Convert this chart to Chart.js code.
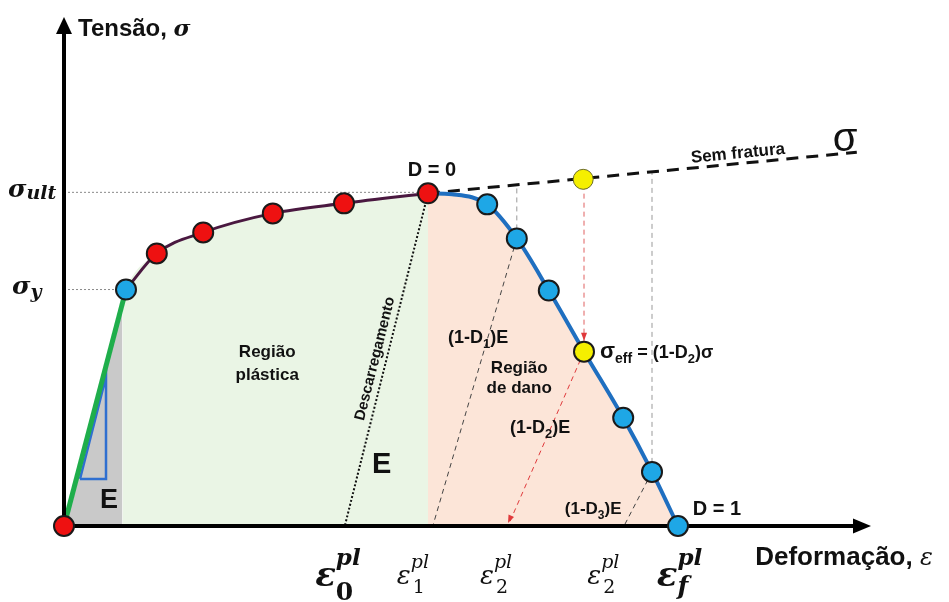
<!DOCTYPE html>
<html><head><meta charset="utf-8">
<script src="https://cdn.jsdelivr.net/npm/chart.js@4.4.1/dist/chart.umd.min.js"></script>
<style>html,body{margin:0;padding:0;background:#fff;}canvas{display:block;}</style>
</head><body>
<canvas id="c" width="949" height="602"></canvas>
<script>
// ---------- data (x: strain units, y: stress units) ----------
const elasticLine   = [{x:0,y:0},{x:7.75,y:47.2}];
const elasticShade  = [{x:0,y:0},{x:7.3,y:44.5}];
const plasticCurve  = [{x:7.75,y:47.2},{x:11.6,y:54.4},{x:17.4,y:58.6},{x:26.1,y:62.4},{x:35.0,y:64.4},{x:45.5,y:66.4}];
const plasticShade  = [{x:7.3,y:44.5},{x:7.75,y:47.2},{x:11.6,y:54.4},{x:17.4,y:58.6},{x:26.1,y:62.4},{x:35.0,y:64.4},{x:45.5,y:66.4}];
const damageCurve   = [{x:45.5,y:66.4},{x:48.5,y:66.2},{x:52.9,y:64.2},{x:56.6,y:57.4},{x:60.6,y:47.0},{x:65.0,y:34.8},{x:69.9,y:21.6},{x:73.5,y:10.8},{x:76.75,y:0}];
const redPoints     = [{x:0,y:0},{x:11.6,y:54.4},{x:17.4,y:58.6},{x:26.1,y:62.4},{x:35.0,y:64.4},{x:45.5,y:66.4}];
const bluePoints    = [{x:7.75,y:47.2},{x:52.9,y:64.2},{x:56.6,y:57.4},{x:60.6,y:47.0},{x:69.9,y:21.6},{x:73.5,y:10.8},{x:76.75,y:0}];
const effPoint      = [{x:65.0,y:34.8}];
const noFracPoint   = [{x:64.9,y:69.2}];
const noFractureLine= [{x:45.5,y:66.4},{x:99.1,y:74.6}];
const sigmaUlt = 66.6;
const sigmaY   = 47.2;
const ultRef   = [{x:0,y:sigmaUlt},{x:45.5,y:sigmaUlt}];
const yRef     = [{x:0,y:sigmaY},{x:7.75,y:sigmaY}];
const unload0  = [{x:45.5,y:66.4},{x:35.1,y:0}];
const unload1  = [{x:56.6,y:57.4},{x:46.1,y:0}];
const unload2  = [{x:65.0,y:34.8},{x:55.5,y:0}];
const unload3  = [{x:73.5,y:10.8},{x:70.0,y:0}];
const vert1    = [{x:56.6,y:57.4},{x:56.6,y:67.9}];
const vert2    = [{x:65.0,y:34.8},{x:65.0,y:69.2}];
const vert3    = [{x:73.5,y:10.8},{x:73.5,y:70.6}];
const slopeTriangle = [{x:2.0,y:9.4},{x:5.25,y:9.4},{x:5.25,y:29.8},{x:2.0,y:9.4}];
// tick labels along strain axis: [position, subscript, bold]
const xTickPos   = [31.4, 41.6, 52.0, 65.4, 74.1];
const xTickSub   = ['0','1','2','2','f'];
const xTickBold  = [true,false,false,false,true];

const FS = '"Liberation Sans", Arial, sans-serif';
const FM = '"DejaVu Serif", serif';

function ds(data, o){ return Object.assign({data, showLine:true, pointRadius:0, borderWidth:1, fill:false, clip:false}, o); }

function arrowHead(ctx, x1, y1, x2, y2, len, w, color){
  const a = Math.atan2(y2-y1, x2-x1);
  ctx.save(); ctx.fillStyle = color; ctx.translate(x2,y2); ctx.rotate(a);
  ctx.beginPath(); ctx.moveTo(0,0); ctx.lineTo(-len, -w/2); ctx.lineTo(-len, w/2); ctx.closePath(); ctx.fill();
  ctx.restore();
}
function rich(ctx, x, y, parts){
  let cx = x;
  for (const p of parts){
    ctx.font = p[1];
    ctx.fillText(p[0], cx, y + (p[2]||0));
    cx += ctx.measureText(p[0]).width + (p[3]||0);
  }
  return cx;
}

let axesDrawn = false;
const decor = {
  id:'decor',
  beforeDraw(){ axesDrawn = false; },
  beforeDatasetDraw(chart, args){
    if (axesDrawn) return;
    if (chart.data.datasets[args.index].order !== 1) return;
    axesDrawn = true;
    const ctx = chart.ctx, xs = chart.scales.x, ys = chart.scales.y, ca = chart.chartArea;
    const x0 = xs.getPixelForValue(0), y0 = ys.getPixelForValue(0);
    ctx.save();
    ctx.strokeStyle = '#000'; ctx.lineWidth = 4;
    ctx.beginPath(); ctx.moveTo(x0, y0+2); ctx.lineTo(x0, ca.top+4); ctx.stroke();
    ctx.beginPath(); ctx.moveTo(x0-2, y0); ctx.lineTo(ca.right-4, y0); ctx.stroke();
    arrowHead(ctx, x0, y0, x0, ca.top-8, 17, 16, '#000');
    arrowHead(ctx, x0, y0, ca.right+7, y0, 18, 15, '#000');
    // red arrowheads
    arrowHead(ctx, xs.getPixelForValue(vert2[1].x), ys.getPixelForValue(vert2[1].y), xs.getPixelForValue(vert2[0].x), ys.getPixelForValue(vert2[0].y)-11, 8, 6, '#e0393b');
    arrowHead(ctx, xs.getPixelForValue(unload2[0].x), ys.getPixelForValue(unload2[0].y), xs.getPixelForValue(unload2[1].x), ys.getPixelForValue(unload2[1].y)-3, 8, 6, '#e0393b');
    ctx.restore();
  },
  afterDraw(chart){
    const ctx = chart.ctx, xs = chart.scales.x, ys = chart.scales.y;
    const X = v => xs.getPixelForValue(v), Y = v => ys.getPixelForValue(v);
    ctx.save();
    ctx.fillStyle = '#111'; ctx.textBaseline = 'alphabetic'; ctx.textAlign = 'left';
    // axis titles
    rich(ctx, X(1.75), Y(97.8), [['Tensão, ', 'bold 24px '+FS], ['σ', 'italic bold 23px '+FM]]);
    rich(ctx, X(86.4), Y(-7.8), [['Deformação, ', 'bold 26px '+FS], ['ε', 'italic 24px '+FM]]);
    // stress tick labels
    rich(ctx, X(-7), Y(sigmaUlt)+5, [['σ', 'italic bold 25px '+FM], ['ult', 'italic bold 19px '+FM, 2]]);
    rich(ctx, X(-6.5), Y(sigmaY)+4, [['σ', 'italic bold 25px '+FM], ['y', 'italic bold 19px '+FM, 4]]);
    // strain tick labels
    for (let i=0;i<xTickPos.length;i++){
      const lx = X(xTickPos[i]);
      if (xTickBold[i]){
        ctx.font = 'italic bold 34px '+FM; ctx.fillText('ε', lx, 586);
        const w = ctx.measureText('ε').width;
        ctx.font = 'italic bold 23px '+FM; ctx.fillText('pl', lx+w, 565);
        ctx.font = (xTickSub[i]==='f' ? 'italic bold 25px ' : 'bold 25px ')+FM; ctx.fillText(xTickSub[i], lx+w, xTickSub[i]==='f'?594:600);
      } else {
        ctx.font = 'italic 26px '+FM; ctx.fillText('ε', lx, 584);
        const w = ctx.measureText('ε').width;
        ctx.font = 'italic 19px '+FM; ctx.fillText('pl', lx+w, 568);
        ctx.font = '19px '+FM; ctx.fillText(xTickSub[i], lx+w+2, 593);
      }
    }
    // region labels
    ctx.textAlign = 'center';
    ctx.font = 'bold 17px '+FS;
    ctx.fillText('Região', X(25.4), Y(33.8));
    ctx.fillText('plástica', X(25.4), Y(29.2));
    ctx.fillText('Região', X(56.9), Y(30.6));
    ctx.fillText('de dano', X(56.9), Y(26.6));
    ctx.font = 'bold 20px '+FS;
    ctx.fillText('D = 0', X(45.5)+4, Y(66.4)-17);
    // Sem fratura rotated
    {
      const ax = X(noFractureLine[0].x), ay = Y(noFractureLine[0].y), bx = X(noFractureLine[1].x), by = Y(noFractureLine[1].y);
      const ang = Math.atan2(by-ay, bx-ax);
      ctx.save(); ctx.translate(X(84.3), Y(74.2)+4); ctx.rotate(ang);
      ctx.font = 'bold 17px '+FS; ctx.fillText('Sem fratura', 0, 0); ctx.restore();
    }
    // Descarregamento rotated along unloading line
    {
      const ax = X(unload0[1].x), ay = Y(unload0[1].y), bx = X(unload0[0].x), by = Y(unload0[0].y);
      const ang = Math.atan2(by-ay, bx-ax);
      ctx.save(); ctx.translate(X(38.9), Y(33.4)); ctx.rotate(ang);
      ctx.textBaseline = 'middle';
      ctx.font = 'bold 15px '+FS; ctx.fillText('Descarregamento', 0, 0); ctx.restore();
    }
    ctx.textAlign = 'left';
    ctx.font = '40px '+FS; ctx.fillText('σ', X(96.1), Y(74.8));
    ctx.font = 'bold 29px '+FS; ctx.fillText('E', X(38.5), Y(10.6));
    ctx.font = 'bold 27px '+FS; ctx.fillText('E', X(4.5), Y(3.6));
    const B = 'bold 18px '+FS, S = 'bold 13px '+FS;
    rich(ctx, X(48), Y(36.6), [['(1-D', B], ['1', S, 5], [')E', B]]);
    rich(ctx, X(55.75), Y(18.6), [['(1-D', B], ['2', S, 5], [')E', B]]);
    rich(ctx, X(62.6), Y(2.4), [['(1-D', 'bold 17px '+FS], ['3', 'bold 12px '+FS, 5], [')E', 'bold 17px '+FS]]);
    rich(ctx, X(67), Y(33.6), [['σ', 'bold 22px '+FS], ['eff', 'bold 14px '+FS, 5], [' = (1-D', 'bold 18px '+FS], ['2', S, 5], [')σ', 'bold 18px '+FS]]);
    ctx.font = 'bold 20px '+FS; ctx.fillText('D = 1', X(78.6), Y(2.2));
    ctx.restore();
  }
};

const datasets = [
  ds(elasticShade, {fill:'origin', backgroundColor:'#c9c9c9', borderWidth:0, order:20}),
  ds(plasticShade, {fill:'origin', backgroundColor:'#eaf5e5', borderWidth:0, order:20, cubicInterpolationMode:'monotone'}),
  ds(damageCurve,  {fill:'origin', backgroundColor:'#fce5d8', borderWidth:0, order:20, cubicInterpolationMode:'monotone'}),
  ds(ultRef,  {borderColor:'#8a8a8a', borderWidth:1, borderDash:[2,2], order:15}),
  ds(yRef,    {borderColor:'#8a8a8a', borderWidth:1, borderDash:[2,2], order:15}),
  ds(unload0, {borderColor:'#111', borderWidth:2, borderDash:[2,2], order:12}),
  ds(unload1, {borderColor:'#444', borderWidth:1, borderDash:[5,4], order:12}),
  ds(unload2, {borderColor:'#e0393b', borderWidth:1, borderDash:[5,4], order:12}),
  ds(unload3, {borderColor:'#444', borderWidth:1, borderDash:[5,4], order:12}),
  ds(vert1,   {borderColor:'#999', borderWidth:1, borderDash:[5,4], order:12}),
  ds(vert2,   {borderColor:'#e06060', borderWidth:1, borderDash:[5,4], order:12}),
  ds(vert3,   {borderColor:'#999', borderWidth:1, borderDash:[5,4], order:12}),
  ds(noFractureLine, {borderColor:'#111', borderWidth:3, borderDash:[12,8], order:11}),
  ds(elasticLine, {borderColor:'#1fae4b', borderWidth:5, order:8}),
  ds(slopeTriangle, {borderColor:'#2f6fd0', borderWidth:2.5, order:8}),
  ds(plasticCurve, {borderColor:'#4a1840', borderWidth:3, order:7, cubicInterpolationMode:'monotone'}),
  ds(damageCurve,  {borderColor:'#1f6fc0', borderWidth:4, order:7, cubicInterpolationMode:'monotone'}),
  ds(redPoints,  {showLine:false, pointRadius:10, pointBackgroundColor:'#ee1111', pointBorderColor:'#1a1a1a', pointBorderWidth:2, order:1}),
  ds(bluePoints, {showLine:false, pointRadius:10, pointBackgroundColor:'#1ea7e6', pointBorderColor:'#1a1a1a', pointBorderWidth:2, order:1}),
  ds(effPoint,   {showLine:false, pointRadius:10, pointBackgroundColor:'#f5ef00', pointBorderColor:'#1a1a1a', pointBorderWidth:2, order:1}),
  ds(noFracPoint,{showLine:false, pointRadius:10, pointBackgroundColor:'#f5ef00', pointBorderColor:'#6b6b2a', pointBorderWidth:1, order:1})
];

new Chart(document.getElementById('c'), {
  type:'scatter',
  data:{datasets},
  options:{
    responsive:false, animation:false, devicePixelRatio:1,
    layout:{padding:{left:64, right:85, top:25, bottom:76}},
    plugins:{legend:{display:false}, tooltip:{enabled:false}},
    events:[],
    scales:{
      x:{type:'linear', min:0, max:100, display:false},
      y:{type:'linear', min:0, max:100, display:false}
    }
  },
  plugins:[decor]
});
</script>
</body></html>
